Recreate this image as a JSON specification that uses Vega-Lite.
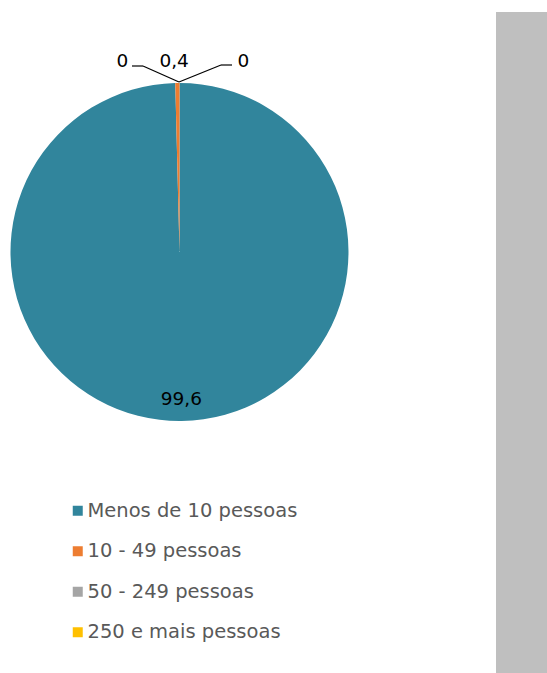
{
  "$schema": "https://vega.github.io/schema/vega-lite/v6.json",
  "width": 547,
  "height": 673,
  "autosize": {"type": "fit", "contains": "padding"},
  "padding": 0,
  "background": "white",
  "config": {
    "view": {"stroke": null},
    "font": "DejaVu Sans",
    "locale": {"number": {"decimal": ",", "thousands": ".", "grouping": [3], "currency": ["", " €"]}}
  },
  "data": {"values": [
    {"categoria": "Menos de 10 pessoas", "valor": 99.6, "ordem": 1},
    {"categoria": "10 - 49 pessoas", "valor": 0.4, "ordem": 2},
    {"categoria": "50 - 249 pessoas", "valor": 0, "ordem": 3},
    {"categoria": "250 e mais pessoas", "valor": 0, "ordem": 4}
  ]},
  "layer": [
    {
      "data": {"values": [{}]},
      "mark": {"type": "rect", "color": "#bfbfbf"},
      "encoding": {"x": {"value": 496}, "x2": {"value": 547}, "y": {"value": 12}, "y2": {"value": 673}}
    },
    {
      "mark": {"type": "arc", "x": 179.5, "y": 252, "radius": 169},
      "encoding": {
        "theta": {"field": "valor", "type": "quantitative", "stack": true},
        "order": {"field": "ordem", "type": "quantitative"},
        "color": {
          "field": "categoria",
          "type": "nominal",
          "scale": {
            "domain": ["Menos de 10 pessoas", "10 - 49 pessoas", "50 - 249 pessoas", "250 e mais pessoas"],
            "range": ["#31859c", "#ed7d31", "#a5a5a5", "#ffc000"]
          },
          "legend": {
            "orient": "none",
            "legendX": 68,
            "legendY": 501,
            "title": null,
            "symbolType": "square",
            "symbolSize": 100,
            "symbolStrokeWidth": 0,
            "labelFontSize": 19.5,
            "labelFont": "DejaVu Sans",
            "labelColor": "#595959",
            "rowPadding": 19.5,
            "labelOffset": 0,
            "padding": 0,
            "labelLimit": 400
          }
        }
      }
    },
    {
      "mark": {"type": "text", "x": 179.5, "y": 252, "radius": 147, "fontSize": 18.5, "color": "#000000"},
      "encoding": {
        "theta": {"field": "valor", "type": "quantitative", "stack": true},
        "order": {"field": "ordem", "type": "quantitative"},
        "text": {"condition": {"test": "datum.ordem == 1", "field": "valor", "type": "quantitative", "format": ".1~f"}, "value": ""}
      }
    },
    {
      "mark": {"type": "text", "x": 179.5, "y": 252, "radius": 191, "dx": -3, "fontSize": 18.5, "color": "#000000"},
      "encoding": {
        "theta": {"field": "valor", "type": "quantitative", "stack": true},
        "order": {"field": "ordem", "type": "quantitative"},
        "text": {"condition": {"test": "datum.ordem == 2", "field": "valor", "type": "quantitative", "format": ".1~f"}, "value": ""}
      }
    },
    {
      "mark": {"type": "text", "x": 179.5, "y": 252, "radius": 191, "dx": -57, "fontSize": 18.5, "color": "#000000"},
      "encoding": {
        "theta": {"field": "valor", "type": "quantitative", "stack": true},
        "order": {"field": "ordem", "type": "quantitative"},
        "text": {"condition": {"test": "datum.ordem == 3", "field": "valor", "type": "quantitative", "format": ".1~f"}, "value": ""}
      }
    },
    {
      "mark": {"type": "text", "x": 179.5, "y": 252, "radius": 191, "dx": 64, "fontSize": 18.5, "color": "#000000"},
      "encoding": {
        "theta": {"field": "valor", "type": "quantitative", "stack": true},
        "order": {"field": "ordem", "type": "quantitative"},
        "text": {"condition": {"test": "datum.ordem == 4", "field": "valor", "type": "quantitative", "format": ".1~f"}, "value": ""}
      }
    },
    {
      "data": {"values": [{}]},
      "mark": {"type": "rule", "color": "#000000", "strokeWidth": 1.2},
      "encoding": {"x": {"value": 132}, "x2": {"value": 143}, "y": {"value": 66}, "y2": {"value": 66}}
    },
    {
      "data": {"values": [{}]},
      "mark": {"type": "rule", "color": "#000000", "strokeWidth": 1.2},
      "encoding": {"x": {"value": 143}, "x2": {"value": 179}, "y": {"value": 66}, "y2": {"value": 82}}
    },
    {
      "data": {"values": [{}]},
      "mark": {"type": "rule", "color": "#000000", "strokeWidth": 1.2},
      "encoding": {"x": {"value": 179}, "x2": {"value": 221}, "y": {"value": 82}, "y2": {"value": 65}}
    },
    {
      "data": {"values": [{}]},
      "mark": {"type": "rule", "color": "#000000", "strokeWidth": 1.2},
      "encoding": {"x": {"value": 221}, "x2": {"value": 232}, "y": {"value": 65}, "y2": {"value": 65}}
    }
  ]
}
